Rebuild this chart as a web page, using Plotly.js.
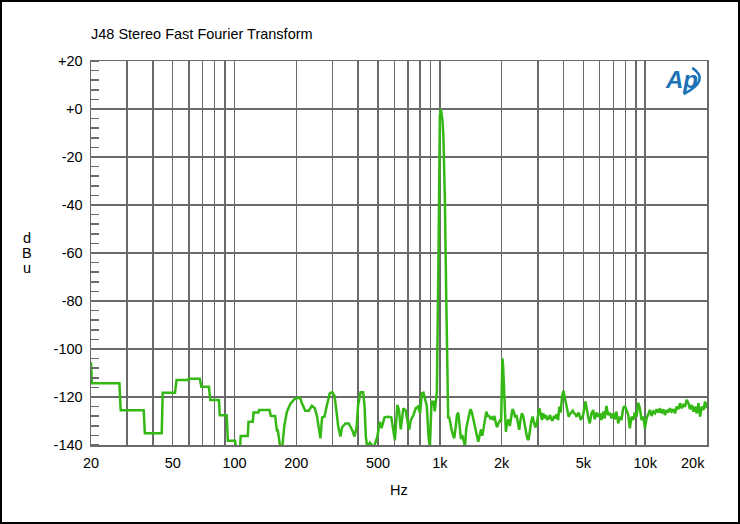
<!DOCTYPE html>
<html>
<head>
<meta charset="utf-8">
<script src="https://cdn.plot.ly/plotly-3.0.1.min.js"></script>
<style>
  html, body { margin: 0; padding: 0; background: #fff; }
  #wrap { position: relative; width: 740px; height: 524px; }
  #chart { width: 740px; height: 524px; }
  #frame { position: absolute; left: 0; top: 0; width: 740px; height: 524px; box-sizing: border-box; border: 2px solid #000; pointer-events: none; }
</style>
</head>
<body>
<div id="wrap"><div id="chart"></div><div id="frame"></div></div>
<script>
// Frequency (Hz) of each FFT point
var freqHz = [
  20, 20.2, 27.5, 27.9, 36.1, 36.6, 44.2, 44.7, 51.3, 52.2, 59.4, 59.8, 67.8, 68.9, 75.0, 76.2, 84.0, 84.7, 91.6, 92.8,
  100.5, 101.8, 106.4, 107.2, 116, 117, 122.7, 123.8, 130.7, 131.7, 148, 150.3, 157.8, 160.8, 162.6, 166.9, 170.7, 175,
  180, 187, 194, 201, 209, 213, 221, 230, 238, 246, 252, 257, 262, 267, 274, 282, 291, 299, 307, 313, 320, 328, 334,
  347, 360, 374, 384, 393, 400, 411, 423, 430, 436, 443, 456, 477, 496, 510, 520, 538, 559, 580, 593, 604, 621, 632,
  645, 664, 682, 695, 708, 722, 744, 763, 783, 801, 817, 832, 847, 864, 881, 894, 911, 932, 945, 955, 967, 985,
  1000, 1011, 1031, 1042, 1058, 1075, 1088, 1098, 1110, 1123, 1141, 1158, 1175, 1193, 1211, 1229, 1248, 1267, 1285,
  1306, 1325, 1345, 1366, 1386, 1407, 1429, 1450, 1471, 1495, 1517, 1539, 1564, 1587, 1610, 1636, 1660, 1684, 1711,
  1736, 1762, 1790, 1816, 1843, 1872, 1900, 1928, 1959, 1988, 2017, 2033, 2063, 2096, 2126, 2158, 2192, 2224, 2257,
  2293, 2327, 2361, 2399, 2434, 2470, 2509, 2546, 2584, 2625, 2663, 2703, 2746, 2786, 2827, 2872, 2914, 2957, 3004,
  3049, 3094, 3143, 3189, 3236, 3288, 3336, 3386, 3439, 3490, 3542, 3598, 3651, 3705, 3764, 3819, 3875, 3937, 3995,
  4054, 4118, 4179, 4241, 4308, 4372, 4436, 4507, 4573, 4626, 4746, 4854, 4987, 5118, 5193, 5275, 5371, 5474, 5580,
  5681, 5789, 5901, 6008, 6123, 6241, 6354, 6476, 6601, 6721, 6851, 6983, 7110, 7247, 7387, 7521, 7666, 7814, 7956,
  8111, 8266, 8417, 8580, 8746, 8905, 9078, 9253, 9421, 9604, 9789, 9967, 10160, 10355, 10543, 10747, 10954, 11153,
  11369, 11588, 11798, 12026, 12258, 12480, 12722, 12967, 13202, 13458, 13717, 13966, 14236, 14511, 14774, 15060,
  15350, 15629, 15932, 16239, 16533, 16854, 17178, 17490, 17829, 18172, 18502, 18861, 19224, 19573, 19952, 20336
];
// Level (dBu) of each FFT point
var levelDbu = [
  -105.5, -114.3, -114.3, -125.5, -125.5, -135.1, -135.1, -118.2, -118.2, -112.9, -112.9, -112.4, -112.4, -115.7, -115.7, -121.2, -121.2, -127.6, -127.6, -138.2,
  -138.2, -141, -141, -136.2, -136.2, -130.3, -130.3, -126.5, -126.5, -125.4, -125.4, -127.9, -127.9, -134, -134, -141, -141, -131.7,
  -126.1, -122.9, -121.2, -120.3, -120.5, -122.6, -125.7, -125.7, -123.7, -124.7, -127.9, -132.6, -137.2, -128.5, -128.2, -123.3, -118.5, -118, -119.6, -125.4, -132.4, -136.5, -132.6,
  -131, -131, -133.7, -136.5, -132.6, -123.3, -118, -118, -124, -136.5, -141, -139, -141, -136.5, -130.3, -133, -128.5, -128.2, -128.5, -133, -138, -123.3, -125.4,
  -133.5, -124.7, -125.7, -130.3, -133.7, -129.6, -127.5, -124.7, -124, -126.8, -118.5, -118.2, -121.2, -123.7, -136.5, -141, -122, -122, -126, -120.7, -118, -60,
  -3, 0, -5, -13, -38, -80, -121, -128.9, -128.2, -131, -133.7, -135.8, -137.2, -133, -127.5, -126.5, -133.7, -137.6, -135.8,
  -137.9, -140.5, -133, -130.3, -127.9, -125.1, -126.1, -128.2, -130.3, -133.7, -136.5, -138.6, -135.8, -133.5, -136.2, -132.6, -128.9, -126.1, -127.9,
  -127.9, -128.9, -128.5, -129.6, -127.9, -130.7, -132.6, -131, -129.9, -130.3, -103.9, -107.4, -119.9, -134.5, -131, -129.3, -132.1, -128.9, -125.1,
  -126.1, -128.5, -127.5, -130.3, -133.7, -129.6, -126.8, -127.9, -131, -133.7, -137.2, -137.9, -133.5, -130.3, -128.2, -131, -132.6, -131.7, -128.2,
  -124.7, -126.8, -129.6, -126.8, -128.9, -127.5, -129.3, -128.9, -127.5, -129.3, -129.9, -127.9, -128.9, -127.1, -129.6, -124, -126.5, -119.9, -117.4,
  -119.9, -123.3, -126.1, -128.2, -127.1, -126.1, -125.7, -126.8, -127.1, -128.2, -126.5, -129.6, -127.5, -121.9, -126.1, -128.2, -131, -126.8, -125.4,
  -129.3, -126.5, -128.2, -126.8, -129.6, -126.1, -128.9, -123.7, -127.5, -126.5, -128.9, -126.8, -129.3, -126.1, -131, -128.2, -129.6, -124.7, -123.7,
  -125.4, -127.5, -133.1, -128.2, -129.6, -126.5, -128.2, -122.4, -124.7, -129.6, -128.2, -133.1, -128.9, -126.8, -125.4, -127.9, -126.1, -126.8,
  -125.1, -126.5, -124.7, -126.8, -125.1, -127.5, -125.4, -126.5, -124.7, -126.1, -125.1, -126.8, -124, -125.1, -122.6, -124.7,
  -123.3, -124, -121.2, -122.6, -125.1, -123.3, -126.1, -124, -126.8, -122.6, -128.2, -124, -125.4, -121.9, -124.7, -121.9
];

var xGridVals = [20, 30, 40, 50, 60, 70, 80, 90, 100, 200, 300, 400, 500, 600, 700, 800, 900,
                 1000, 2000, 3000, 4000, 5000, 6000, 7000, 8000, 9000, 10000, 20000];
var xGridText = ['20', '', '', '50', '', '', '', '', '100', '200', '', '', '500', '', '', '', '',
                 '1k', '2k', '', '', '5k', '', '', '', '', '10k', ''];
var yTickVals = [-140, -120, -100, -80, -60, -40, -20, 0, 20];
var yTickText = ['-140', '-120', '-100', '-80', '-60', '-40', '-20', '+0', '+20'];

var FONT = 'Liberation Sans, Arial, Helvetica, sans-serif';
var GRID = '#6a6a6a';
var LOGO = '#1b72b5';

var trace = {
  x: freqHz, y: levelDbu, type: 'scatter', mode: 'lines',
  line: { color: '#33b814', width: 2.5 },
  hoverinfo: 'skip'
};

var layout = {
  width: 740, height: 524,
  margin: { l: 91, r: 33, t: 61, b: 79 },
  paper_bgcolor: '#ffffff', plot_bgcolor: '#ffffff',
  showlegend: false,
  font: { family: FONT, size: 14.5, color: '#000' },
  title: { text: 'J48 Stereo Fast Fourier Transform', x: 91 / 740, xanchor: 'left', y: 1 - 34 / 524, yanchor: 'middle',
           font: { family: FONT, size: 14.5, color: '#000' } },
  xaxis: {
    type: 'log', range: [Math.log10(20), Math.log10(20000)],
    tickmode: 'array', tickvals: xGridVals, ticktext: xGridText,
    showgrid: true, gridcolor: GRID, gridwidth: 1.5,
    showline: true, mirror: true, linecolor: GRID, linewidth: 1.5,
    ticks: '', ticklabelstandoff: 4, zeroline: false, fixedrange: true,
    tickfont: { family: FONT, size: 14.5, color: '#000' }
  },
  yaxis: {
    range: [-140, 20],
    tickmode: 'array', tickvals: yTickVals, ticktext: yTickText,
    showgrid: true, gridcolor: GRID, gridwidth: 1.5,
    showline: true, mirror: true, linecolor: GRID, linewidth: 1.5,
    ticks: '', ticklabelstandoff: 4, zeroline: false, fixedrange: true,
    tickfont: { family: FONT, size: 14.5, color: '#000' },
    minor: { dtick: 4, ticks: 'inside', ticklen: 8, tickcolor: GRID, tickwidth: 1.5, showgrid: false }
  },
  shapes: [
    { type: 'path', xref: 'paper', yref: 'paper',
      path: 'M 0.976 0.982 Q 1.006 0.950 0.962 0.914',
      line: { color: LOGO, width: 2.5 }, fillcolor: 'rgba(0,0,0,0)' }
  ],
  annotations: [
    { text: '20k', xref: 'x', yref: 'paper', x: Math.log10(20000), y: (445 - 463) / 384, xanchor: 'right', yanchor: 'middle', showarrow: false, font: { family: FONT, size: 14.5, color: '#000' } },
    { text: 'd', xref: 'paper', yref: 'paper', x: (27 - 91) / 616, y: (445 - 238) / 384, xanchor: 'center', yanchor: 'middle', showarrow: false, font: { family: FONT, size: 14.5, color: '#000' } },
    { text: 'B', xref: 'paper', yref: 'paper', x: (27 - 91) / 616, y: (445 - 253) / 384, xanchor: 'center', yanchor: 'middle', showarrow: false, font: { family: FONT, size: 14.5, color: '#000' } },
    { text: 'u', xref: 'paper', yref: 'paper', x: (27 - 91) / 616, y: (445 - 268) / 384, xanchor: 'center', yanchor: 'middle', showarrow: false, font: { family: FONT, size: 14.5, color: '#000' } },
    { text: 'Hz', xref: 'paper', yref: 'paper', x: (399 - 91) / 616, y: (445 - 490) / 384, xanchor: 'center', yanchor: 'middle', showarrow: false, font: { family: FONT, size: 14.5, color: '#000' } },
    { text: '<b><i>Ap</i></b>', xref: 'paper', yref: 'paper', x: (681 - 91) / 616, y: (445 - 79) / 384, xanchor: 'center', yanchor: 'middle', showarrow: false, font: { family: FONT, size: 24, color: LOGO } }
  ]
};

Plotly.newPlot('chart', [trace], layout, { staticPlot: true, displayModeBar: false });
</script>
</body>
</html>
